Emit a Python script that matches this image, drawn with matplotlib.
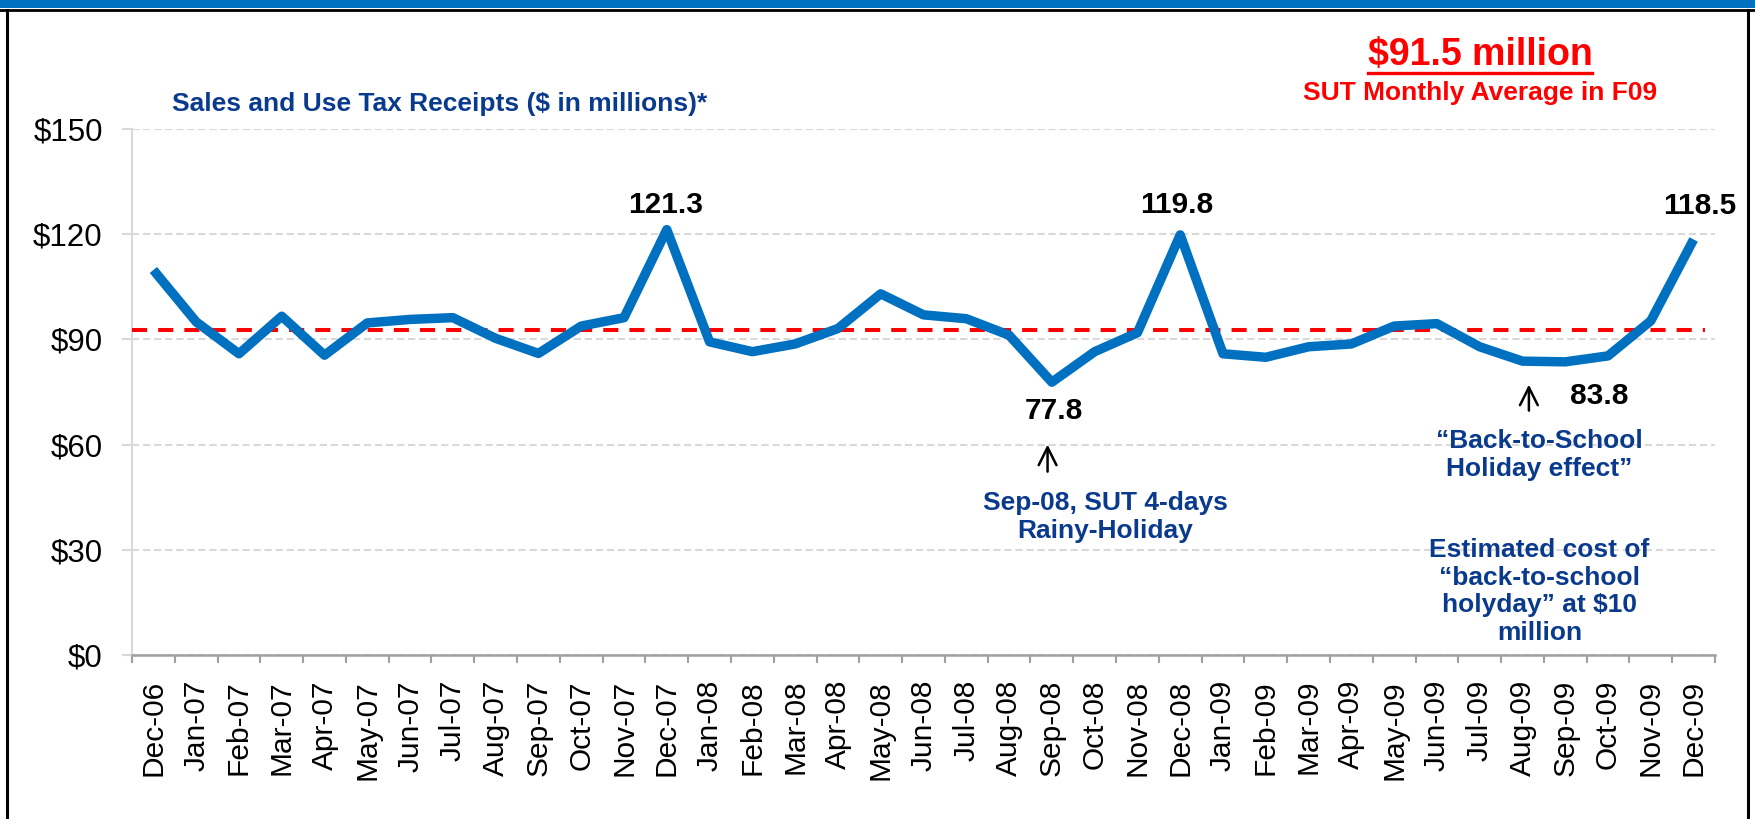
import matplotlib
matplotlib.use("Agg")
import matplotlib.pyplot as plt
from matplotlib.lines import Line2D
from matplotlib.patches import Rectangle
from matplotlib.ticker import FixedLocator

plt.rcParams['font.family'] = ['Liberation Sans', 'DejaVu Sans']

# ---------------- data ----------------
months = ["Dec-06", "Jan-07", "Feb-07", "Mar-07", "Apr-07", "May-07", "Jun-07", "Jul-07",
          "Aug-07", "Sep-07", "Oct-07", "Nov-07", "Dec-07", "Jan-08", "Feb-08", "Mar-08",
          "Apr-08", "May-08", "Jun-08", "Jul-08", "Aug-08", "Sep-08", "Oct-08", "Nov-08",
          "Dec-08", "Jan-09", "Feb-09", "Mar-09", "Apr-09", "May-09", "Jun-09", "Jul-09",
          "Aug-09", "Sep-09", "Oct-09", "Nov-09", "Dec-09"]
receipts = [109.8, 95.0, 85.9, 96.6, 85.5, 94.7, 95.7, 96.2,
            90.3, 86.0, 93.8, 96.2, 121.3, 89.3, 86.5, 88.7,
            93.1, 103.0, 97.0, 95.9, 91.2, 77.8, 86.5, 91.9,
            119.8, 85.9, 84.9, 87.9, 88.7, 93.8, 94.5, 87.9,
            83.8, 83.6, 85.3, 95.3, 118.5]
average_line = 92.7
y_ticks = [0, 30, 60, 90, 120, 150]
y_tick_labels = ["$0", "$30", "$60", "$90", "$120", "$150"]

# labelled points: (index, text, dx_px, dy_px)
point_labels = [(12, "121.3", -1, 25), (24, "119.8", -4, 30), (36, "118.5", 6, 33),
                (21, "77.8", 2, -29), (32, "83.8", 77, -35)]

NAVY = "#0A3A8E"
BLUE = "#0070C0"
W, H = 1756, 819

fig = plt.figure(figsize=(W / 100, H / 100), dpi=100)
fig.patch.set_facecolor("white")

def fx(px):
    return px / W

def fy(py):
    return 1 - py / H

# frame
fig.patches.append(Rectangle((0, fy(8)), 1, 8 / H, transform=fig.transFigure,
                             facecolor=BLUE, edgecolor="none"))
fig.lines.append(Line2D([0, 1], [fy(10), fy(10)], transform=fig.transFigure, color="black", lw=2))
fig.lines.append(Line2D([fx(7.5), fx(7.5)], [fy(10), 0], transform=fig.transFigure, color="black", lw=2.2))
fig.lines.append(Line2D([fx(1748.5), fx(1748.5)], [fy(10), 0], transform=fig.transFigure, color="black", lw=2.2))

ax = fig.add_axes([fx(132), fy(655), fx(1715) - fx(132), (655 - 129) / H])
x = list(range(len(months)))

ax.set_xlim(-0.5, len(months) - 0.5)
ax.set_ylim(0, 150)

# grid
ax.set_yticks(y_ticks)
ax.set_yticklabels(y_tick_labels, fontsize=22.5)
ax.yaxis.grid(True, color="#d9d9d9", lw=1.5, linestyle=(0, (3.5, 1.8)))
ax.set_axisbelow(True)

ax.set_xticks(x)
ax.set_xticklabels(months, rotation=90, fontsize=21.5)
ax.xaxis.set_minor_locator(FixedLocator([i - 0.5 for i in range(len(months) + 1)]))
ax.tick_params(axis="x", which="major", length=0, pad=18)
ax.tick_params(axis="x", which="minor", length=6, width=1.5, color="#a0a0a0")
ax.tick_params(axis="y", which="major", length=7, width=1.5, color="#d9d9d9", pad=14)

for s in ["top", "right"]:
    ax.spines[s].set_visible(False)
ax.spines["left"].set_color("#d9d9d9")
ax.spines["left"].set_linewidth(1.5)
ax.spines["bottom"].set_color("#a0a0a0")
ax.spines["bottom"].set_linewidth(1.8)

# average line
ax.plot([-0.5, len(months) - 0.73], [average_line, average_line], color="#FF0000", lw=2.9,
        linestyle=(0, (3.75, 2.75)), zorder=3)

# receipts line
ax.plot(x, receipts, color=BLUE, lw=6.8, solid_joinstyle="round", solid_capstyle="butt", zorder=4)

# point labels
for i, txt, dx, dy in point_labels:
    ax.annotate(txt, xy=(i, receipts[i]), xytext=(dx, dy), textcoords="offset pixels",
                ha="center", va="center", fontsize=21.5, fontweight="bold", color="black")

# arrows
ax.annotate("", xy=(20.9, 60.8), xytext=(20.9, 51.5),
            arrowprops=dict(arrowstyle="->", color="black", lw=1.8, mutation_scale=32))
ax.annotate("", xy=(32.15, 77.9), xytext=(32.15, 68.9),
            arrowprops=dict(arrowstyle="->", color="black", lw=1.8, mutation_scale=32))

# annotation texts
ax.text(22.25, 39.3, "Sep-08, SUT 4-days\nRainy-Holiday", ha="center", va="center",
        fontsize=19, fontweight="bold", color=NAVY, linespacing=1.2)
ax.text(32.4, 57.1, "\u201cBack-to-School\nHoliday effect\u201d", ha="center", va="center",
        fontsize=19, fontweight="bold", color=NAVY, linespacing=1.2)
ax.text(32.4, 18.1, "Estimated cost of\n\u201cback-to-school\nholyday\u201d at $10\nmillion",
        ha="center", va="center", fontsize=19, fontweight="bold", color=NAVY, linespacing=1.2)

# titles
fig.text(fx(172), fy(104), "Sales and Use Tax Receipts ($ in millions)*", ha="left", va="center",
         fontsize=19, fontweight="bold", color=NAVY)
big = fig.text(fx(1480), fy(55), "$91.5 million", ha="center", va="center",
               fontsize=27, fontweight="bold", color="#FF0000")
fig.text(fx(1480), fy(93), "SUT Monthly Average in F09", ha="center", va="center",
         fontsize=19, fontweight="bold", color="#FF0000")

# underline for the big red text
fig.canvas.draw()
bb = big.get_window_extent(renderer=fig.canvas.get_renderer())
fig.lines.append(Line2D([bb.x0 / W, bb.x1 / W], [fy(73), fy(73)], transform=fig.transFigure,
                        color="#FF0000", lw=2.4))

fig.savefig("out.png", dpi=100, facecolor="white")
